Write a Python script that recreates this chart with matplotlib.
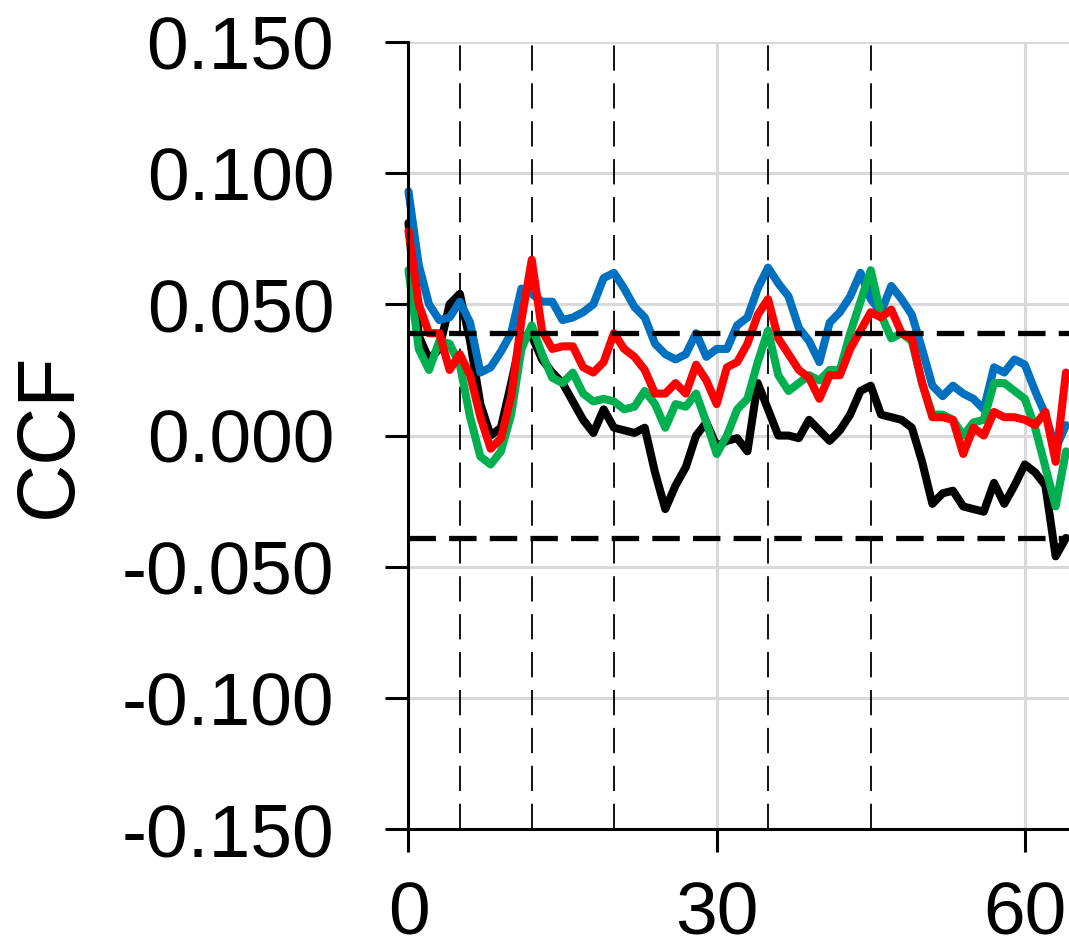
import matplotlib
matplotlib.use("Agg")
import matplotlib.pyplot as plt

plt.rcParams['font.family'] = ['Liberation Sans', 'DejaVu Sans']

# Lag axis (integer lags)
lags = list(range(65))

black = [0.081, 0.038, 0.029, 0.033, 0.050, 0.054, 0.036, 0.012, 0.000, 0.003,
         0.020, 0.038, 0.038, 0.029, 0.024, 0.020, 0.013, 0.006, 0.001, 0.010,
         0.003, 0.002, 0.001, 0.003, -0.014, -0.028, -0.019, -0.012, 0.000, 0.005,
         -0.004, -0.002, -0.001, -0.006, 0.020, 0.010, 0.000, 0.000, -0.001, 0.006,
         0.002, -0.002, 0.002, 0.008, 0.017, 0.019, 0.008, 0.007, 0.006, 0.003,
         -0.010, -0.026, -0.022, -0.021, -0.027, -0.028, -0.029, -0.018, -0.026, -0.019,
         -0.011, -0.014, -0.019, -0.046, -0.039]

green = [0.063, 0.033, 0.025, 0.036, 0.035, 0.027, 0.007, -0.008, -0.011, -0.006,
         0.008, 0.033, 0.042, 0.031, 0.022, 0.020, 0.024, 0.016, 0.013, 0.014,
         0.013, 0.010, 0.011, 0.017, 0.012, 0.003, 0.012, 0.011, 0.016, 0.005,
         -0.007, 0.000, 0.010, 0.014, 0.028, 0.040, 0.023, 0.017, 0.020, 0.023,
         0.021, 0.025, 0.025, 0.039, 0.051, 0.063, 0.046, 0.037, 0.039, 0.036,
         0.020, 0.008, 0.008, 0.006, 0.000, 0.005, 0.006, 0.020, 0.020, 0.017,
         0.014, 0.003, -0.012, -0.027, -0.006]

red = [0.078, 0.050, 0.039, 0.039, 0.025, 0.031, 0.023, 0.007, -0.005, -0.001,
       0.015, 0.044, 0.067, 0.040, 0.033, 0.034, 0.034, 0.026, 0.024, 0.028,
       0.039, 0.033, 0.030, 0.025, 0.016, 0.016, 0.020, 0.016, 0.027, 0.021,
       0.012, 0.026, 0.028, 0.035, 0.046, 0.052, 0.037, 0.031, 0.025, 0.022,
       0.014, 0.023, 0.023, 0.033, 0.040, 0.047, 0.045, 0.048, 0.039, 0.037,
       0.020, 0.007, 0.007, 0.006, -0.007, 0.003, 0.000, 0.009, 0.007, 0.007,
       0.006, 0.004, 0.009, -0.010, 0.024]

blue = [0.093, 0.065, 0.050, 0.044, 0.045, 0.051, 0.043, 0.024, 0.026, 0.032,
        0.039, 0.056, 0.054, 0.051, 0.051, 0.044, 0.045, 0.047, 0.050, 0.060,
        0.062, 0.056, 0.049, 0.045, 0.035, 0.031, 0.029, 0.031, 0.039, 0.030,
        0.033, 0.033, 0.042, 0.045, 0.056, 0.064, 0.058, 0.053, 0.041, 0.036,
        0.028, 0.043, 0.047, 0.053, 0.062, 0.052, 0.047, 0.057, 0.052, 0.046,
        0.033, 0.019, 0.015, 0.019, 0.016, 0.014, 0.010, 0.026, 0.024, 0.029,
        0.027, 0.017, 0.008, -0.005, 0.004]

# Significance bound and marked lags
conf = 0.039
marked_lags = [5, 12, 20, 35, 45]
yticks = [-0.150, -0.100, -0.050, 0.000, 0.050, 0.100, 0.150]
xticks = [0, 30, 60]


def main():
    fig = plt.figure(figsize=(10.69, 9.5), dpi=100)
    ax = fig.add_axes([0.3821, 0.127, 0.6179, 0.829])

    # Series
    series = [(black, '#000000', 3), (blue, '#0070C0', 4),
              (green, '#00B050', 5), (red, '#FF0000', 6)]
    for vals, col, z in series:
        ax.plot(lags, vals, color=col, lw=5.8, solid_joinstyle='round',
                solid_capstyle='round', zorder=z, clip_on=False)

    # Confidence bounds
    for c in (conf, -conf):
        ax.axhline(c, color='black', lw=3.8, dashes=(5.2, 2.5), zorder=7)

    # Vertical reference lines
    for lag in marked_lags:
        ax.axvline(lag, color='black', lw=1.3, dashes=(14, 7), zorder=2)

    ax.set_xlim(0, 64.3)
    ax.set_ylim(-0.150, 0.150)
    ax.set_xticks(xticks)
    ax.set_yticks(yticks)
    ax.set_yticklabels(['%.3f' % v for v in yticks])

    ax.grid(True, color='#D9D9D9', lw=2.2, zorder=0)
    ax.set_axisbelow(True)
    for s in ('top', 'right'):
        ax.spines[s].set_visible(False)
    for s in ('left', 'bottom'):
        ax.spines[s].set_linewidth(2.2)
        ax.spines[s].set_zorder(8)

    ax.tick_params(axis='both', direction='out', length=16.5, width=2.2,
                   labelsize=54)
    ax.tick_params(axis='y', pad=37)
    ax.tick_params(axis='x', pad=20)

    fig.text(50 / 1069, 1 - 435 / 950, 'CCF', rotation=90, fontsize=58,
             ha='center', va='center')

    fig.savefig('out.png', dpi=100)


if __name__ == "__main__":
    main()
